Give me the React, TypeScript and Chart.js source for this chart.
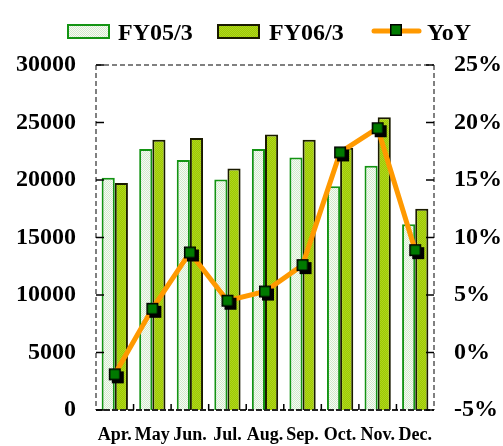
import { useEffect, useRef } from "react";
import { Chart, registerables } from "chart.js";
Chart.register(...registerables);

const months = ["Apr.", "May", "Jun.", "Jul.", "Aug.", "Sep.", "Oct.", "Nov.", "Dec."];
const fy05 = [20200, 22700, 21750, 20050, 22700, 21950, 19450, 21250, 16150];
const fy06 = [19750, 23500, 23650, 21000, 23950, 23500, 22800, 25450, 17500];
const yoy = [-1.9, 3.8, 8.7, 4.5, 5.3, 7.6, 17.4, 19.5, 8.9];
const seriesNames = ["FY05/3", "FY06/3", "YoY"];

const FONT = "'Liberation Serif', 'Times New Roman', serif";

function makePattern(base: string, dot: string) {
  const c = document.createElement("canvas");
  c.width = 2;
  c.height = 2;
  const g = c.getContext("2d")!;
  g.fillStyle = base;
  g.fillRect(0, 0, 2, 2);
  g.fillStyle = dot;
  g.fillRect(0, 0, 1, 1);
  g.fillRect(1, 1, 1, 1);
  return g.createPattern(c, "repeat")!;
}

function makeMarker(shadow: boolean) {
  const c = document.createElement("canvas");
  c.width = 24;
  c.height = 24;
  const g = c.getContext("2d")!;
  if (shadow) {
    g.fillStyle = "#000";
    g.fillRect(9, 9, 12, 12);
  }
  g.fillStyle = "#007a00";
  g.fillRect(6, 6, 12, 12);
  g.strokeStyle = "#000";
  g.lineWidth = 1.5;
  g.strokeRect(6.75, 6.75, 10.5, 10.5);
  return c;
}

export default function App() {
  const ref = useRef<HTMLCanvasElement | null>(null);
  useEffect(() => {
    document.body.style.margin = "0";
    const fy05Fill = makePattern("#f7fbf5", "#d2e9cb");
    const fy06Fill = makePattern("#9ccb00", "#b0d420");
    const marker = makeMarker(true);
    const legendMarker = makeMarker(false);

    const framePlugin = {
      id: "frame",
      afterDatasetsDraw(chart: any) {
        const { ctx } = chart;
        const { left, right, top, bottom } = chart.chartArea;
        const ln = (x1: number, y1: number, x2: number, y2: number) => {
          ctx.beginPath();
          ctx.moveTo(x1, y1);
          ctx.lineTo(x2, y2);
          ctx.stroke();
        };
        ctx.save();
        ctx.strokeStyle = "#808080";
        ctx.lineWidth = 2;
        ctx.setLineDash([5, 3]);
        ln(left, top, right, top);
        ln(left, top, left, bottom);
        ln(right, top, right, bottom);
        ctx.strokeStyle = "#222";
        ctx.setLineDash([6, 2]);
        ln(left, bottom, right, bottom);
        ctx.setLineDash([]);
        ctx.strokeStyle = "#000";
        ctx.lineWidth = 1.5;
        const yl = chart.scales.y;
        for (let v = 0; v <= 30000; v += 5000) {
          const y = yl.getPixelForValue(v);
          ln(left, y, left + 8, y);
        }
        const yr = chart.scales.y1;
        for (let v = -5; v <= 25; v += 5) {
          const y = yr.getPixelForValue(v);
          ln(right - 8, y, right, y);
        }
        const n = months.length;
        const w = (right - left) / n;
        for (let i = 1; i < n; i++) {
          const x = left + i * w;
          ln(x, bottom, x, bottom - 6);
        }
        ctx.restore();
      },
      afterDraw(chart: any) {
        const { ctx } = chart;
        ctx.save();
        ctx.font = `bold 24px ${FONT}`;
        ctx.fillStyle = "#000";
        ctx.textBaseline = "alphabetic";
        // FY05
        ctx.fillStyle = fy05Fill;
        ctx.fillRect(67, 24, 43, 15);
        ctx.strokeStyle = "#139413";
        ctx.lineWidth = 2;
        ctx.strokeRect(68, 25, 41, 13);
        ctx.fillStyle = "#000";
        ctx.fillText(seriesNames[0], 118, 40);
        // FY06
        ctx.fillStyle = fy06Fill;
        ctx.fillRect(217, 24, 43, 15);
        ctx.strokeStyle = "#1a1a00";
        ctx.strokeRect(218, 25, 41, 13);
        ctx.fillStyle = "#000";
        ctx.fillText(seriesNames[1], 269, 40);
        // YoY
        ctx.strokeStyle = "#ff9900";
        ctx.lineWidth = 5;
        ctx.lineCap = "round";
        ctx.beginPath();
        ctx.moveTo(374, 31);
        ctx.lineTo(419, 31);
        ctx.stroke();
        ctx.drawImage(legendMarker, 384, 18);
        ctx.fillText(seriesNames[2], 427, 40);
        ctx.restore();
      },
    };

    const chart = new Chart(ref.current!, {
      type: "bar",
      data: {
        labels: months,
        datasets: [
          {
            type: "line",
            label: seriesNames[2],
            data: yoy,
            yAxisID: "y1",
            borderColor: "#ff9900",
            borderWidth: 5,
            pointStyle: marker as any,
            pointRadius: 8,
            order: 0,
          },
          {
            label: seriesNames[0],
            data: fy05,
            yAxisID: "y",
            backgroundColor: fy05Fill as any,
            borderColor: "#139413",
            borderWidth: 2,
            categoryPercentage: 0.7,
            barPercentage: 1,
            order: 1,
          },
          {
            label: seriesNames[1],
            data: fy06,
            yAxisID: "y",
            backgroundColor: fy06Fill as any,
            borderColor: "#1a1a00",
            borderWidth: 2,
            categoryPercentage: 0.7,
            barPercentage: 1,
            order: 2,
          },
        ],
      },
      options: {
        animation: false,
        responsive: false,
        layout: { padding: { top: 65, left: 0, right: 0, bottom: 0 } },
        plugins: { legend: { display: false }, tooltip: { enabled: false } },
        scales: {
          x: {
            grid: { display: false, drawTicks: false },
            border: { display: false },
            ticks: {
              autoSkip: false,
              maxRotation: 0,
              padding: 15,
              color: "#000",
              font: { family: FONT, size: 18, weight: "bold" },
            },
            afterFit: (s: any) => {
              s.height = 36;
            },
          },
          y: {
            position: "left",
            min: 0,
            max: 30000,
            grid: { display: false, drawTicks: false },
            border: { display: false },
            ticks: {
              stepSize: 5000,
              padding: 20,
              color: "#000",
              font: { family: FONT, size: 24, weight: "bold" },
              callback: (v: any) => String(v),
            },
            afterFit: (s: any) => {
              s.width = 96;
            },
          },
          y1: {
            position: "right",
            min: -5,
            max: 25,
            grid: { display: false, drawTicks: false },
            border: { display: false },
            ticks: {
              stepSize: 5,
              padding: 20,
              color: "#000",
              font: { family: FONT, size: 24, weight: "bold" },
              callback: (v: any) => `${v}%`,
            },
            afterFit: (s: any) => {
              s.width = 69;
            },
          },
        },
      },
      plugins: [framePlugin],
    });
    return () => chart.destroy();
  }, []);
  return (
    <div style={{ width: 503, height: 446, background: "#fff" }}>
      <canvas ref={ref} width={503} height={446} />
    </div>
  );
}
